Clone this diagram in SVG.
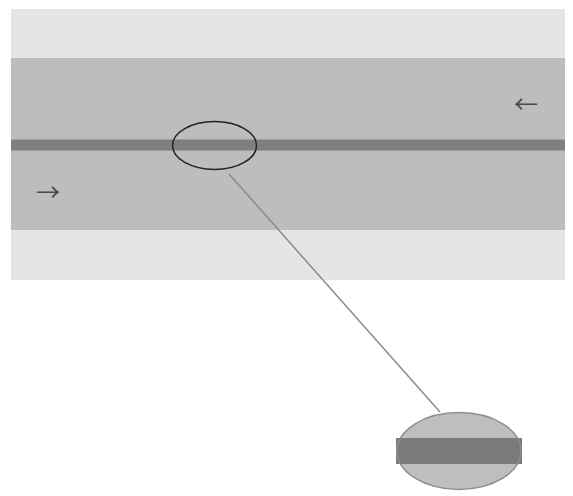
<svg xmlns="http://www.w3.org/2000/svg" width="573" height="496" viewBox="0 0 573 496">
<style>
.arrow{font-family:"Noto Sans CJK SC","DejaVu Sans",sans-serif;font-size:24px;fill:#4a4a4a}
</style>
<rect x="0" y="0" width="573" height="496" fill="#fff"/>
<g id="road">
<rect x="11" y="9" width="554" height="271" fill="#e4e5e7"/>
<rect x="11" y="58" width="554" height="172" fill="#bcbdbf"/>
<rect x="11" y="139.5" width="554" height="11" fill="#7f7f80"/>
</g>
<g id="arrows">
<text class="arrow" x="48" y="190" text-anchor="middle" dominant-baseline="central">→</text>
<text class="arrow" x="526" y="102" text-anchor="middle" dominant-baseline="central">←</text>
</g>
<g id="connectors">
<line x1="229" y1="174" x2="440" y2="412" stroke="#8a8a8a" stroke-width="1.5"/>
</g>
<g id="highlight">
<ellipse cx="214.5" cy="145.5" rx="42" ry="24" fill="none" stroke="#222" stroke-width="1.5"/>
</g>
<g id="zoom">
<ellipse cx="459" cy="451" rx="62" ry="38.5" fill="#bdbec0"/>
<rect x="396" y="438" width="126" height="26" fill="#7a7a7b"/>
<ellipse cx="459" cy="451" rx="62" ry="38.5" fill="none" stroke="#8e8e8e" stroke-width="1.5"/>
</g>
</svg>
